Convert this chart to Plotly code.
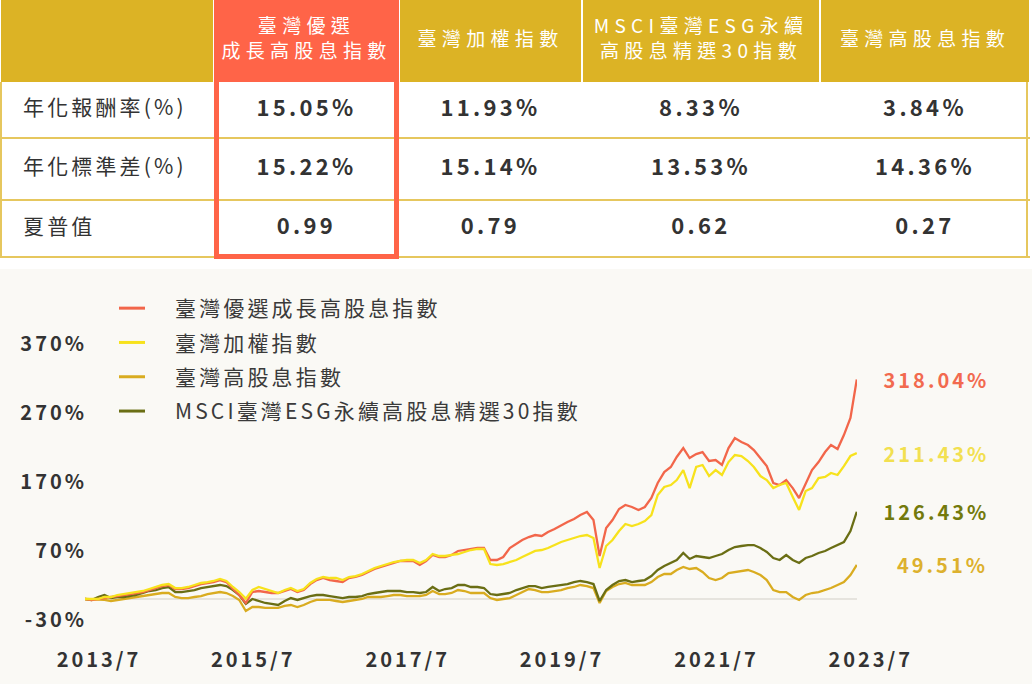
import pandas as pd
import plotly.graph_objects as go

# ---------------- data ----------------
dates = pd.date_range("2013-07-01", "2023-07-01", freq="MS")

growth_high_div = [  # 臺灣優選成長高股息指數 (%)
    0, -1.4, 0, 1.4, 2.9, 4.3, 5.8, 7.2, 8.7, 10.1, 13.0, 15.9, 18.8, 20.3, 14.5, 14.5,
    15.9, 18.8, 21.7, 23.2, 24.6, 27.5, 24.6, 14.5, 5.8, -5.8, 10.1, 11.6, 10.1, 8.7,
    8.7, 11.6, 14.5, 10.1, 13.0, 21.7, 27.5, 30.4, 27.5, 26.1, 24.6, 30.4, 31.9, 34.8,
    39.1, 43.5, 46.4, 49.3, 52.2, 55.1, 55.1, 55.1, 49.3, 55.1, 63.8, 60.9, 60.9, 63.8,
    69.6, 71.0, 72.5, 73.9, 73.9, 56.5, 56.5, 60.9, 73.9, 79.7, 85.5, 89.8, 92.7, 91.3,
    97.1, 101.4, 107.2, 111.6, 115.9, 121.7, 126.1, 114.5, 62.3, 102.9, 114.5, 130.4,
    136.2, 133.3, 129.0, 133.3, 146.3, 168.1, 184.0, 191.3, 205.8, 218.8, 204.3, 210.1,
    213.0, 200.0, 201.4, 194.2, 218.8, 233.3, 227.5, 223.1, 215.9, 204.3, 192.7, 168.1,
    165.2, 172.4, 160.8, 146.3, 168.1, 186.9, 198.5, 213.0, 223.1, 217.4, 237.6, 262.3,
    318.04,
]
taiex = [  # 臺灣加權指數 (%)
    0, 0, 0, 2.9, 2.9, 5.8, 7.2, 8.7, 10.1, 11.6, 14.5, 17.4, 20.3, 21.7, 15.9, 15.9,
    17.4, 20.3, 23.2, 24.6, 26.1, 29.0, 26.1, 17.4, 10.1, 0.5, 13.0, 17.4, 14.5, 11.6,
    8.7, 13.0, 15.9, 11.6, 14.5, 23.2, 29.0, 31.9, 30.4, 30.4, 27.5, 31.9, 33.3, 36.2,
    40.6, 44.9, 47.8, 50.7, 53.6, 55.1, 56.5, 56.5, 52.2, 56.5, 65.2, 62.3, 62.3, 63.8,
    65.2, 68.1, 71.0, 72.5, 72.5, 50.7, 49.3, 50.7, 53.6, 56.5, 60.9, 65.2, 69.6, 71.0,
    73.9, 78.2, 82.6, 85.5, 88.4, 91.3, 92.7, 88.4, 44.9, 76.8, 85.5, 98.5, 108.7,
    105.8, 108.7, 113.0, 121.7, 150.7, 162.3, 165.2, 172.4, 186.9, 160.8, 191.3, 194.2,
    178.2, 186.9, 179.7, 198.5, 208.7, 207.2, 200.0, 191.3, 178.2, 172.4, 160.8, 165.2,
    168.1, 147.8, 129.0, 156.5, 160.8, 175.3, 176.8, 182.6, 179.7, 192.7, 207.2, 211.43,
]
high_div = [  # 臺灣高股息指數 (%)
    0, -0.5, 0, -1.4, -2.9, -1.4, 0, 1.4, 2.9, 4.3, 5.8, 7.2, 8.7, 8.7, 2.9, 1.4, 1.4,
    2.9, 4.3, 7.2, 8.7, 10.1, 8.7, 4.3, -1.4, -17.4, -11.6, -11.6, -13.0, -13.0, -13.0,
    -10.1, -8.7, -11.6, -8.7, -4.3, -1.4, -1.4, -1.4, -2.9, -4.3, -2.9, -1.4, 0, 2.9,
    2.9, 2.9, 4.3, 5.8, 5.8, 4.3, 4.3, 4.3, 5.8, 11.6, 7.2, 7.2, 8.7, 13.0, 11.6, 8.7,
    8.7, 8.7, 1.4, -1.4, 0, 1.4, 5.8, 10.1, 14.5, 13.0, 10.1, 10.1, 11.6, 13.0, 15.9,
    17.4, 20.3, 18.8, 15.9, -5.8, 11.6, 17.4, 21.7, 23.2, 20.3, 20.3, 20.3, 24.6, 31.9,
    36.2, 36.2, 42.0, 46.4, 43.5, 44.9, 39.1, 30.4, 27.5, 30.4, 37.7, 39.1, 40.6, 42.0,
    39.1, 34.8, 27.5, 13.0, 10.1, 10.1, 2.9, -1.4, 5.8, 8.7, 10.1, 13.0, 15.9, 20.3,
    24.6, 34.8, 49.51,
]
msci_esg = [  # MSCI臺灣ESG永續高股息精選30指數 (%)
    0, -1.4, 2.9, 5.8, 1.4, 2.9, 2.9, 4.3, 5.8, 8.7, 11.6, 13.0, 15.9, 17.4, 10.1, 10.1,
    11.6, 13.0, 15.9, 17.4, 18.8, 20.3, 18.8, 13.0, 5.8, -7.2, 0, -2.9, -5.8, -7.2,
    -8.7, -2.9, 1.4, -1.4, 1.4, 4.3, 5.8, 5.8, 4.3, 2.9, 1.4, 2.9, 2.9, 4.3, 7.2, 8.7,
    10.1, 11.6, 11.6, 11.6, 10.1, 10.1, 8.7, 10.1, 17.4, 11.6, 14.5, 15.9, 20.3, 20.3,
    17.4, 17.4, 15.9, 7.2, 5.8, 7.2, 8.7, 13.0, 15.9, 18.8, 18.8, 15.9, 17.4, 18.8,
    20.3, 21.7, 24.6, 26.1, 24.6, 21.7, -2.9, 13.0, 20.3, 26.1, 27.5, 24.6, 26.1, 27.5,
    33.3, 42.0, 47.8, 52.2, 56.5, 66.7, 58.0, 62.3, 60.9, 59.4, 62.3, 65.2, 71.0, 75.3,
    76.8, 78.2, 78.2, 73.9, 68.1, 59.4, 56.5, 63.8, 56.5, 52.2, 59.4, 62.3, 66.7, 69.6,
    73.9, 78.2, 82.6, 98.5, 126.43,
]

series_names = ["臺灣優選成長高股息指數", "臺灣加權指數", "臺灣高股息指數",
                "MSCI臺灣ESG永續高股息精選30指數"]
series_values = [growth_high_div, taiex, high_div, msci_esg]

x_tick_dates = ["2013-07-01", "2015-07-01", "2017-07-01", "2019-07-01",
                "2021-07-01", "2023-07-01"]
x_tick_text = ["2013/7", "2015/7", "2017/7", "2019/7", "2021/7", "2023/7"]
y_tick_vals = [-30, 70, 170, 270, 370]
y_tick_text = ["-30%", "70%", "170%", "270%", "370%"]

# table data
table_columns = ["臺灣優選<br>成長高股息指數", "臺灣加權指數",
                 "MSCI臺灣ESG永續<br>高股息精選30指數", "臺灣高股息指數"]
row_labels = ["年化報酬率(%)", "年化標準差(%)", "夏普值"]
annual_return = [15.05, 11.93, 8.33, 3.84]
annual_std = [15.22, 15.14, 13.53, 14.36]
sharpe = [0.99, 0.79, 0.62, 0.27]

# ---------------- styles ----------------
FONT = "Noto Sans CJK TC"
DARK = "#333333"
CORAL = "#FF6448"
GOLD_HEAD = "#DCB325"
SEP = "#E6C75E"
line_colors = ["#F2664A", "#F7E21C", "#D9AC20", "#6A6E14"]
label_colors = ["#F26A4F", "#F2E050", "#DDB12E", "#737A0C"]
draw_order = [2, 3, 0, 1]          # gold, olive, red, yellow (yellow on top)

W, H = 1032, 684
plot_l, plot_r = 85, 857
plot_t, plot_b = 330, 640
zero_px, px_per_pct = 599, 0.69
table_h = 259
col_edges = [0, 214, 399, 582, 820, 1030]
row_edges = [0, 82, 138, 200, 257]

fig = go.Figure()

# chart panel background
fig.add_shape(type="rect", xref="paper", yref="paper", x0=0, x1=1,
              y0=0, y1=(H - 269) / H, fillcolor="#FAF9F5", line_width=0, layer="below")

# ---------------- line chart ----------------
for i in draw_order:
    fig.add_trace(go.Scatter(
        x=dates, y=series_values[i], mode="lines", name=series_names[i],
        line=dict(color=line_colors[i], width=2.3),
        legendrank=i + 1, legendgroup=f"g{i}",
        hoverinfo="skip", xaxis="x", yaxis="y",
    ))

# end labels
for i in range(4):
    fig.add_annotation(
        x=dates[-1], y=series_values[i][-1], xref="x", yref="y",
        text=f"{series_values[i][-1]:.2f}%", showarrow=False,
        xanchor="right", xshift=124,
        font=dict(family=FONT, size=20, color=label_colors[i], weight="bold"),
    )

# ---------------- table ----------------
n_cols = len(table_columns) + 1
header_z = [1] * n_cols
header_z[1] = 2
z = [header_z] + [[0] * n_cols for _ in row_labels]
fig.add_trace(go.Heatmap(
    x=col_edges, y=row_edges, z=z, zmin=0, zmax=2,
    colorscale=[[0, "#FFFFFF"], [0.33, "#FFFFFF"], [0.33, GOLD_HEAD], [0.66, GOLD_HEAD],
                [0.66, CORAL], [1, CORAL]],
    showscale=False, xgap=2, hoverinfo="skip", xaxis="x2", yaxis="y2",
))

col_centers = [(col_edges[j] + col_edges[j + 1]) / 2 for j in range(n_cols)]
row_centers = [(row_edges[r] + row_edges[r + 1]) / 2 for r in range(len(row_edges) - 1)]

# header text
fig.add_trace(go.Scatter(
    x=col_centers[1:], y=[row_centers[0]] * len(table_columns), text=table_columns,
    mode="text", textposition="middle center",
    textfont=dict(family=FONT, size=19, color="#FFFFFF"),
    showlegend=False, hoverinfo="skip", xaxis="x2", yaxis="y2",
))
# row labels
fig.add_trace(go.Scatter(
    x=[23] * len(row_labels), y=row_centers[1:], text=row_labels,
    mode="text", textposition="middle right",
    textfont=dict(family=FONT, size=21, color=DARK),
    showlegend=False, hoverinfo="skip", xaxis="x2", yaxis="y2",
))
# values
value_rows = [[f"{v:.2f}%" for v in annual_return],
              [f"{v:.2f}%" for v in annual_std],
              [f"{v:.2f}" for v in sharpe]]
for r, vals in enumerate(value_rows):
    fig.add_trace(go.Scatter(
        x=col_centers[1:], y=[row_centers[r + 1]] * len(vals), text=vals,
        mode="text", textposition="middle center",
        textfont=dict(family=FONT, size=22, color=DARK, weight="bold"),
        showlegend=False, hoverinfo="skip", xaxis="x2", yaxis="y2",
    ))

# row separators and outer borders
for yv in row_edges[2:]:
    fig.add_shape(type="line", xref="x2", yref="y2", x0=0, x1=col_edges[-1],
                  y0=yv, y1=yv, line=dict(color=SEP, width=2))
for xv in (1, 1027):
    fig.add_shape(type="line", xref="x2", yref="y2", x0=xv, x1=xv,
                  y0=row_edges[1], y1=row_edges[-1], line=dict(color=SEP, width=2))
# highlight border
fig.add_shape(type="rect", xref="x2", yref="y2", x0=col_edges[1] + 2.5,
              x1=col_edges[2] - 2.5, y0=0, y1=row_edges[-1] - 0.5,
              line=dict(color=CORAL, width=5))

# ---------------- layout ----------------
y_top = (zero_px - plot_t) / px_per_pct
y_bot = (zero_px - plot_b) / px_per_pct

fig.update_layout(
    width=W, height=H, margin=dict(l=0, r=0, t=0, b=0),
    paper_bgcolor="#FFFFFF", plot_bgcolor="rgba(0,0,0,0)",
    template="none", font=dict(family=FONT, color=DARK),
    showlegend=True,
    legend=dict(
        x=114 / W, y=1 - 288 / H, xanchor="left", yanchor="top",
        bgcolor="rgba(0,0,0,0)", borderwidth=0, tracegroupgap=4, itemwidth=51,
        font=dict(family=FONT, size=21, color="#3A3A3A"),
    ),
    xaxis=dict(
        domain=[plot_l / W, plot_r / W], range=[dates[0], dates[-1] + pd.Timedelta(days=1)],
        tickvals=x_tick_dates, ticktext=x_tick_text, showgrid=False, zeroline=False,
        showline=False, ticks="", automargin=False, ticklabelstandoff=6,
        ticklabelshift=14,
        tickfont=dict(family=FONT, size=20, color=DARK, weight="bold"),
        anchor="y", fixedrange=True,
    ),
    yaxis=dict(
        domain=[1 - plot_b / H, 1 - plot_t / H], range=[y_bot, y_top],
        tickvals=y_tick_vals, ticktext=y_tick_text, showgrid=False,
        zeroline=True, zerolinecolor="#E6E4DE", zerolinewidth=1.5,
        showline=False, ticks="", automargin=False, ticklabelstandoff=-3,
        tickfont=dict(family=FONT, size=20, color=DARK, weight="bold"),
        anchor="x", fixedrange=True,
    ),
    xaxis2=dict(domain=[0, 1], range=[0, W], visible=False, anchor="y2", fixedrange=True),
    yaxis2=dict(domain=[1 - table_h / H, 1], range=[table_h, 0], visible=False,
                anchor="x2", fixedrange=True),
)

post = """
var s = document.createElement('style');
s.textContent = '.js-plotly-plot text { letter-spacing: 0.15em; } ' +
                '.js-plotly-plot .textpoint text[style*="255, 255, 255"] { letter-spacing: 0.28em; } ' +
                '.js-plotly-plot .legend .scrollbox { clip-path: none !important; } ' +
                '.js-plotly-plot .legend .legendlines path { stroke-dasharray: 26px 400px; ' +
                'stroke-width: 3px !important; }';
document.head.appendChild(s);
"""
fig.write_html("out.html", config={"displayModeBar": False}, post_script=post)
